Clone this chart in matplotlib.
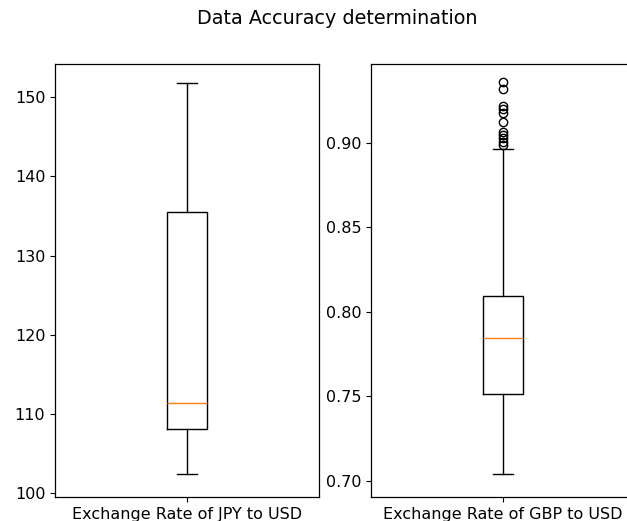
import matplotlib
matplotlib.use("Agg")
import matplotlib.pyplot as plt

# box statistics
labels = ["Exchange Rate of JPY to USD", "Exchange Rate of GBP to USD"]
whislo = [102.4, 0.704]
q1 = [108.1, 0.7515]
med = [111.35, 0.7845]
q3 = [135.45, 0.8095]
whishi = [151.8, 0.8965]
fliers = [[], [0.936, 0.932, 0.922, 0.920, 0.918, 0.9125, 0.9065, 0.9045, 0.9028, 0.9008, 0.8988]]
ylims = [(99.5, 154.2), (0.6905, 0.9467)]

plt.rcParams["font.size"] = 11.5
plt.rcParams["lines.linewidth"] = 1.15
plt.rcParams["axes.linewidth"] = 0.9

W, H = 627, 521
fig = plt.figure(figsize=(W / 100, H / 100), dpi=100)
ax_left = [55, 371]

for i in range(2):
    ax = fig.add_axes([ax_left[i] / W, (H - 497) / H, 264 / W, 433 / H])
    stats = [{
        "label": labels[i],
        "whislo": whislo[i], "q1": q1[i], "med": med[i],
        "q3": q3[i], "whishi": whishi[i], "fliers": fliers[i],
    }]
    ax.bxp(stats, showfliers=True)
    ax.set_ylim(*ylims[i])
    if i == 0:
        ax.set_yticks([100, 110, 120, 130, 140, 150])
    else:
        ax.set_yticks([0.70, 0.75, 0.80, 0.85, 0.90])

fig.text(337 / W, 1 - 18 / H, "Data Accuracy determination", ha="center", va="center", fontsize=13.8)

fig.savefig("out.png", dpi=100)
